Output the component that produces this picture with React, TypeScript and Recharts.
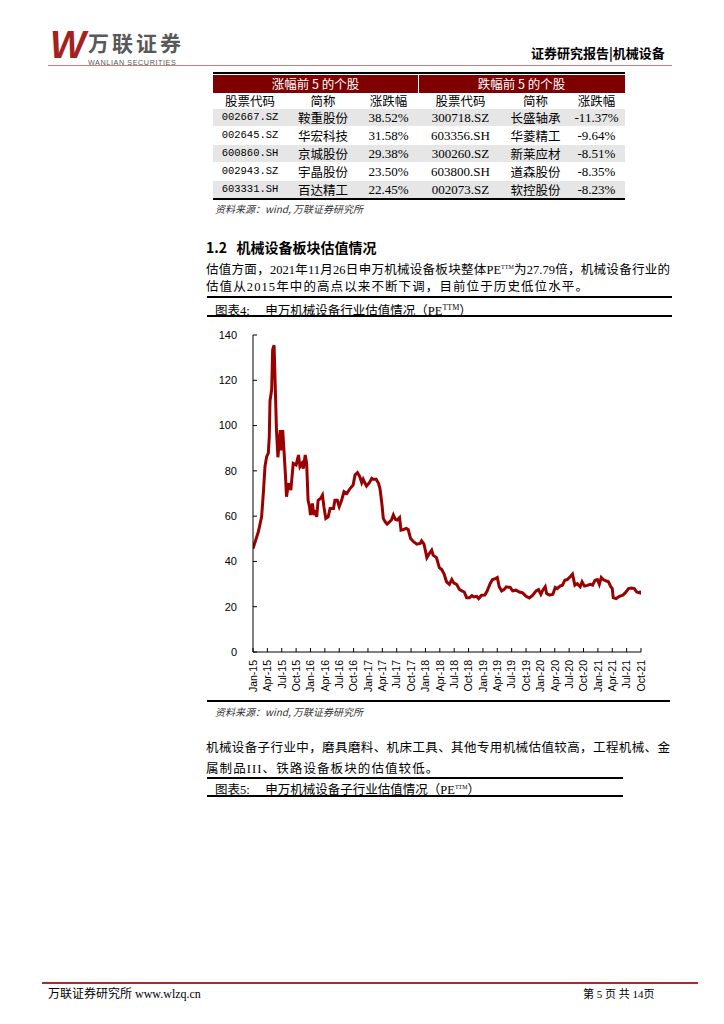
import React from "react";
import { LineChart, Line, XAxis, YAxis } from "recharts";

// 申万机械设备行业 PE(TTM)，横轴为自2015年1月起的月份序号
const monthIdx = [
  0, 1.1, 1.8, 2.2, 2.5, 2.85, 3.2, 3.4, 3.55, 3.9, 4.1, 4.4, 4.65, 4.9, 5.2, 5.5, 5.7, 5.9, 6.2, 6.5,
  6.75, 7.0, 7.4, 7.9, 8.4, 9.0, 9.5, 9.8, 10.2, 10.5, 10.9, 11.2, 11.5, 11.8, 12.0, 12.4, 12.7, 13.0,
  13.3, 13.6, 14.1, 14.5, 14.8, 15.2, 15.7, 16.1, 16.8, 17.1, 17.6, 18.0, 18.5, 19.0, 19.6, 20.3, 20.9,
  21.3, 21.8, 22.3, 22.7, 23.0, 23.4, 23.7, 24.3, 24.8, 25.1, 25.7, 26.2, 26.5, 26.9, 27.2, 27.6, 28.0,
  28.5, 28.9, 29.3, 29.7, 30.1, 30.6, 30.9, 31.4, 32.0, 32.4, 32.9, 33.5, 34.2, 34.9, 35.2, 35.7, 36.3,
  36.8, 37.3, 37.6, 38.3, 38.9, 39.4, 39.9, 40.4, 41.0, 41.5, 41.9, 42.5, 43.1, 43.6, 44.1, 44.6, 45.2,
  45.7, 46.1, 46.7, 47.1, 47.7, 48.4, 48.9, 49.5, 50.0, 50.6, 51.0, 51.4, 51.9, 52.4, 52.9, 53.7, 54.2,
  54.9, 55.6, 56.3, 57.0, 57.7, 58.4, 59.1, 59.6, 60.1, 60.5, 61.0, 61.3, 61.9, 62.6, 63.1, 63.5, 64.1,
  64.6, 65.1, 65.6, 66.2, 66.7, 67.2, 67.7, 68.3, 68.7, 69.2, 69.8, 70.4, 70.9, 71.4, 71.9, 72.3, 72.7,
  73.1, 73.7, 74.2, 74.7, 75.0, 75.2, 75.8, 76.5, 77.2, 77.7, 78.4, 79.0, 79.6, 80.1, 80.8, 81.0,
];
const peTTM = [
  45.7, 53.0, 59.7, 71.5, 81.9, 86.3, 87.8, 95.0, 111.0, 115.8, 133.5, 135.5, 117.0, 98.0, 86.0, 93.7,
  98.0, 89.0, 98.0, 87.8, 79.0, 68.6, 74.5, 71.5, 83.3, 82.6, 87.0, 81.9, 83.3, 81.0, 87.0, 83.3, 67.0,
  64.2, 60.5, 65.6, 60.5, 62.7, 59.7, 67.0, 67.8, 69.3, 64.2, 59.0, 59.7, 63.4, 63.4, 67.0, 67.0, 64.2,
  67.0, 70.8, 70.0, 72.3, 73.7, 78.2, 79.2, 77.4, 74.8, 76.3, 74.5, 73.3, 74.8, 76.7, 76.3, 76.3, 74.5,
  72.3, 65.6, 59.0, 57.5, 56.5, 57.5, 58.3, 60.5, 58.6, 58.3, 59.4, 53.8, 54.1, 54.6, 54.1, 50.1, 48.7,
  47.6, 47.9, 49.1, 47.6, 41.7, 43.5, 45.0, 42.8, 41.7, 37.3, 36.4, 34.4, 31.0, 29.9, 32.0, 30.5, 29.9,
  27.6, 27.0, 26.5, 24.0, 24.0, 24.9, 24.3, 24.6, 23.6, 25.1, 25.2, 27.0, 30.2, 32.0, 32.4, 32.9, 28.8,
  27.0, 27.6, 28.8, 28.5, 27.0, 27.3, 26.5, 26.1, 24.6, 23.9, 25.1, 27.0, 27.6, 25.5, 27.3, 28.8, 25.8,
  25.1, 25.5, 28.5, 28.0, 29.1, 29.5, 31.7, 32.0, 33.2, 34.4, 29.5, 30.2, 28.8, 31.0, 29.1, 29.4, 29.9,
  29.5, 31.7, 32.0, 29.9, 32.9, 32.0, 31.4, 31.0, 28.8, 28.0, 24.0, 23.6, 24.6, 25.1, 26.1, 28.0, 28.3,
  28.0, 26.5, 26.1, 27.0,
];
const xTicks = [0, 3, 6, 9, 12, 15, 18, 21, 24, 27, 30, 33, 36, 39, 42, 45, 48, 51, 54, 57, 60, 63, 66, 69, 72, 75, 78, 81];
const xLabels = [
  "Jan-15", "Apr-15", "Jul-15", "Oct-15", "Jan-16", "Apr-16", "Jul-16", "Oct-16", "Jan-17", "Apr-17",
  "Jul-17", "Oct-17", "Jan-18", "Apr-18", "Jul-18", "Oct-18", "Jan-19", "Apr-19", "Jul-19", "Oct-19",
  "Jan-20", "Apr-20", "Jul-20", "Oct-20", "Jan-21", "Apr-21", "Jul-21", "Oct-21",
];
const yTicks = [0, 20, 40, 60, 80, 100, 120, 140];

// 表格
const upCodes = ["002667.SZ", "002645.SZ", "600860.SH", "002943.SZ", "603331.SH"];
const upNames = ["鞍重股份", "华宏科技", "京城股份", "宇晶股份", "百达精工"];
const upPct = ["38.52%", "31.58%", "29.38%", "23.50%", "22.45%"];
const downCodes = ["300718.SZ", "603356.SH", "300260.SZ", "603800.SH", "002073.SZ"];
const downNames = ["长盛轴承", "华菱精工", "新莱应材", "道森股份", "软控股份"];
const downPct = ["-11.37%", "-9.64%", "-8.51%", "-8.35%", "-8.23%"];

const chartData = monthIdx.map((m, i) => ({ m, pe: peTTM[i] }));

const CJK = '"Noto Sans CJK SC", sans-serif';
const SERIF = '"Liberation Serif", "Noto Sans CJK SC", serif';

const XTick = (props: any) => {
  const { x, y, payload } = props;
  const idx = xTicks.indexOf(payload.value);
  return (
    <text
      x={x}
      y={y}
      dy="0.36em"
      transform={`rotate(-90, ${x}, ${y})`}
      textAnchor="end"
      fontSize={10.5}
      fontFamily='"Liberation Sans", Arial, sans-serif'
      fill="#000"
    >
      {xLabels[idx]}
    </text>
  );
};

const abs = (left: number, top: number, extra: React.CSSProperties = {}): React.CSSProperties => ({
  position: "absolute",
  left,
  top,
  whiteSpace: "nowrap",
  ...extra,
});

const cols = [
  { l: 213, w: 74 },
  { l: 287, w: 72 },
  { l: 359, w: 59 },
  { l: 418, w: 85 },
  { l: 503, w: 65 },
  { l: 568, w: 57 },
];

export default function App() {
  const rows = upCodes.map((c, i) => [c, upNames[i], upPct[i], downCodes[i], downNames[i], downPct[i]]);
  const cellFont = (ci: number): React.CSSProperties =>
    ci === 0
      ? { fontFamily: '"Liberation Mono", monospace', fontSize: 10.5 }
      : ci === 1 || ci === 4
      ? { fontFamily: CJK, fontSize: 12.5 }
      : { fontFamily: SERIF, fontSize: 13 };

  return (
    <div
      style={{
        position: "absolute",
        left: 0,
        top: 0,
        width: 724,
        height: 1024,
        background: "#fff",
        fontFamily: SERIF,
        color: "#000",
        overflow: "hidden",
      }}
    >
      {/* 页眉 */}
      <div
        style={abs(50, 26, {
          fontFamily: '"Liberation Sans", sans-serif',
          fontWeight: 700,
          fontStyle: "italic",
          fontSize: 38,
          color: "#a3211f",
          lineHeight: "38px",
          letterSpacing: -3,
        })}
      >
        W
      </div>
      <div style={abs(88, 32, { fontFamily: CJK, fontSize: 21, fontWeight: 700, color: "#595959", lineHeight: "21px", letterSpacing: 3 })}>
        万联证券
      </div>
      <div style={abs(88, 58.5, { fontFamily: '"Liberation Sans", sans-serif', fontSize: 7.2, color: "#595959", lineHeight: "7px", letterSpacing: 0.6 })}>
        WANLIAN SECURITIES
      </div>
      <div style={abs(531, 45, { fontFamily: CJK, fontSize: 13, fontWeight: 700, lineHeight: "15px" })}>
        证券研究报告|机械设备
      </div>
      <div style={abs(48, 64.5, { width: 624, height: 1.5, background: "#b98383" })} />

      {/* 表格 */}
      <div style={abs(213, 72, { width: 412, height: 2, background: "#000" })} />
      <div style={abs(213, 75, { width: 412, height: 18, background: "#7f0000" })} />
      <div style={abs(418, 75, { width: 1, height: 18, background: "#fff" })} />
      <div style={abs(213, 76, { width: 205, textAlign: "center", color: "#fff", fontFamily: CJK, fontSize: 12.5, lineHeight: "16px" })}>
        涨幅前 5 的个股
      </div>
      <div style={abs(418, 76, { width: 207, textAlign: "center", color: "#fff", fontFamily: CJK, fontSize: 12.5, lineHeight: "16px" })}>
        跌幅前 5 的个股
      </div>
      {["股票代码", "简称", "涨跌幅", "股票代码", "简称", "涨跌幅"].map((h, ci) => (
        <div
          key={"h" + ci}
          style={abs(cols[ci].l, 93, { width: cols[ci].w, textAlign: "center", fontFamily: CJK, fontSize: 12.5, lineHeight: "15px" })}
        >
          {h}
        </div>
      ))}
      {rows.map((r, ri) => (
        <React.Fragment key={"r" + ri}>
          <div style={abs(213, 109 + ri * 18, { width: 412, height: 17, background: ri % 2 === 0 ? "#e6e6e6" : "#fff" })} />
          {r.map((v, ci) => (
            <div
              key={ci}
              style={abs(cols[ci].l, 109 + ri * 18, {
                width: cols[ci].w,
                textAlign: "center",
                lineHeight: "17px",
                ...cellFont(ci),
              })}
            >
              {v}
            </div>
          ))}
        </React.Fragment>
      ))}
      <div style={abs(213, 198, { width: 412, height: 2, background: "#000" })} />
      <div style={abs(215, 203, { fontFamily: CJK, fontStyle: "italic", fontSize: 10, color: "#333", lineHeight: "12px" })}>
        资料来源：wind, 万联证券研究所
      </div>

      {/* 正文 */}
      <div style={abs(206, 239, { fontFamily: CJK, fontWeight: 700, fontSize: 14, lineHeight: "16px" })}>
        1.2&nbsp;&nbsp;&nbsp;机械设备板块估值情况
      </div>
      <div style={abs(206, 259, { width: 464, fontFamily: SERIF, fontSize: 12.5, lineHeight: "16px", textAlign: "justify", textAlignLast: "justify" })}>
        估值方面，2021年11月26日申万机械设备板块整体PE<sup style={{ fontSize: 6, verticalAlign: "5px" }}>TTM</sup>为27.79倍，机械设备行业的
      </div>
      <div style={abs(206, 279, { fontFamily: SERIF, fontSize: 12.5, lineHeight: "16px", letterSpacing: 1.1 })}>
        估值从2015年中的高点以来不断下调，目前位于历史低位水平。
      </div>
      <div style={abs(207, 296, { width: 465, height: 2, background: "#000" })} />
      <div style={abs(215, 300, { fontFamily: SERIF, fontSize: 12.5, lineHeight: "16px" })}>
        图表4:&nbsp;&nbsp;&nbsp;&nbsp;&nbsp;申万机械设备行业估值情况（PE<sup style={{ fontSize: 8, verticalAlign: "5px" }}>TTM</sup>）
      </div>
      <div style={abs(207, 315, { width: 465, height: 1.5, background: "#000" })} />

      {/* 图表 */}
      <div style={abs(200, 320)}>
        <LineChart width={460} height={390} data={chartData} margin={{ top: 15, right: 19, left: 0, bottom: 0 }}>
          <XAxis
            dataKey="m"
            type="number"
            domain={[0, 81]}
            ticks={xTicks}
            interval={0}
            height={58}
            tickSize={-4}
            tickMargin={12}
            tick={<XTick />}
            axisLine={{ stroke: "#000" }}
            tickLine={{ stroke: "#000" }}
            allowDataOverflow
          />
          <YAxis
            type="number"
            domain={[0, 140]}
            ticks={yTicks}
            interval={0}
            width={53}
            tickSize={-4}
            tickMargin={20}
            tick={{ fontSize: 11, fill: "#000", fontFamily: '"Liberation Sans", Arial, sans-serif' }}
            axisLine={{ stroke: "#000" }}
            tickLine={{ stroke: "#000" }}
          />
          <Line
            type="linear"
            dataKey="pe"
            stroke="#990000"
            strokeWidth={3}
            dot={false}
            isAnimationActive={false}
          />
        </LineChart>
      </div>
      <div style={abs(207, 700, { width: 463, height: 2, background: "#000" })} />
      <div style={abs(215, 706, { fontFamily: CJK, fontStyle: "italic", fontSize: 10, color: "#333", lineHeight: "12px" })}>
        资料来源：wind, 万联证券研究所
      </div>

      <div style={abs(206, 740, { width: 464, fontFamily: SERIF, fontSize: 12.5, lineHeight: "16px", textAlign: "justify", textAlignLast: "justify" })}>
        机械设备子行业中，磨具磨料、机床工具、其他专用机械估值较高，工程机械、金
      </div>
      <div style={abs(206, 761, { fontFamily: SERIF, fontSize: 12.5, lineHeight: "16px", letterSpacing: 1.1 })}>
        属制品III、铁路设备板块的估值较低。
      </div>
      <div style={abs(207, 777, { width: 416, height: 2, background: "#000" })} />
      <div style={abs(215, 779, { fontFamily: SERIF, fontSize: 12.5, lineHeight: "16px" })}>
        图表5:&nbsp;&nbsp;&nbsp;&nbsp;&nbsp;申万机械设备子行业估值情况（PE<sup style={{ fontSize: 6, verticalAlign: "5px" }}>TTM</sup>）
      </div>
      <div style={abs(207, 795, { width: 416, height: 2, background: "#000" })} />

      {/* 页脚 */}
      <div style={abs(42, 982, { width: 656, height: 2, background: "#a03030" })} />
      <div style={abs(48, 987, { fontFamily: SERIF, fontSize: 12, lineHeight: "14px" })}>
        万联证券研究所&nbsp;www.wlzq.cn
      </div>
      <div style={abs(583, 987, { fontFamily: SERIF, fontSize: 11, lineHeight: "14px" })}>
        第 5 页 共 14页
      </div>
    </div>
  );
}
